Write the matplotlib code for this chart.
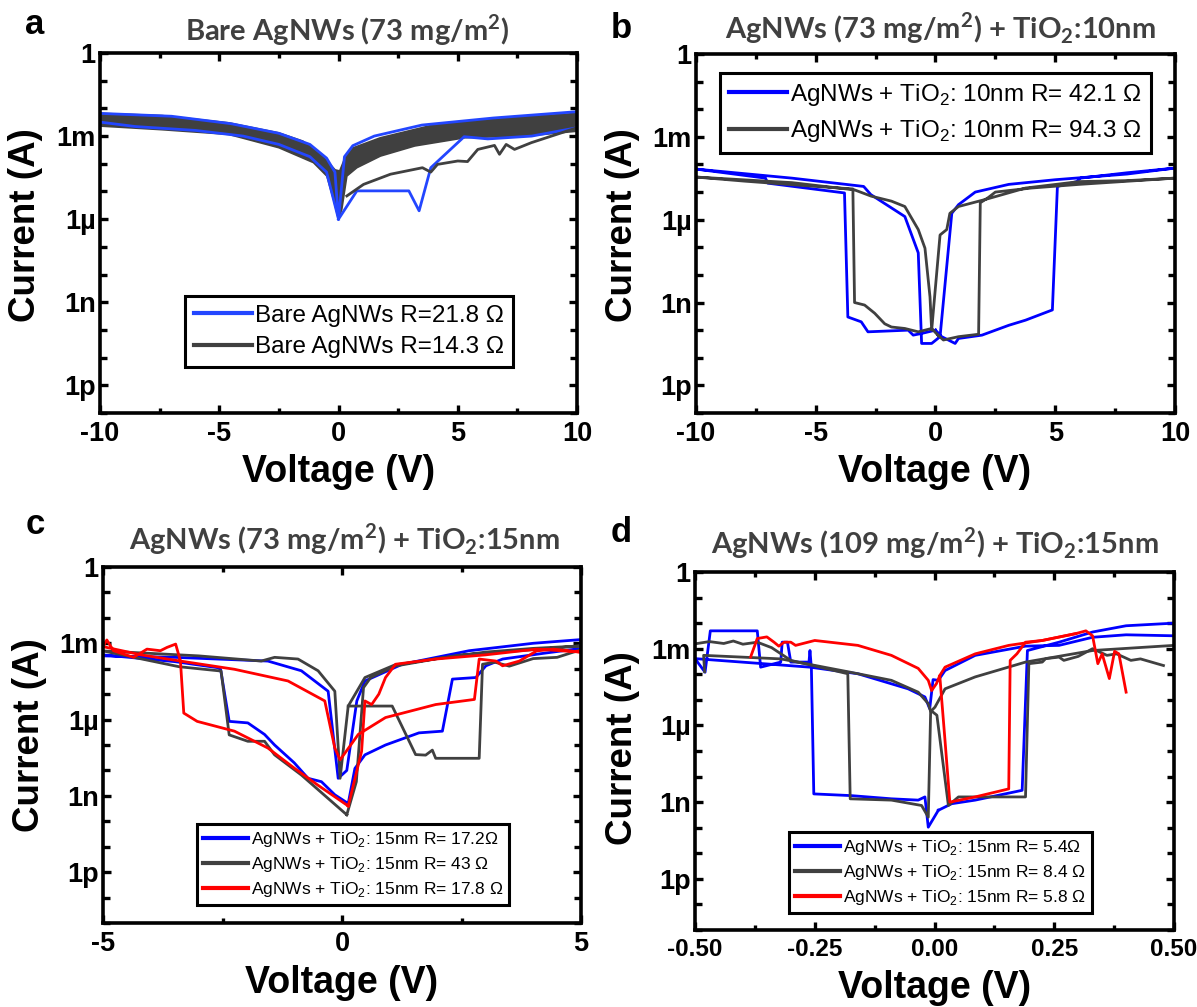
import numpy as np
import matplotlib
matplotlib.use("Agg")
import matplotlib.pyplot as plt
from matplotlib.lines import Line2D
from matplotlib.ticker import (FixedLocator, FixedFormatter, MultipleLocator,
                               LogLocator, NullFormatter, FormatStrFormatter)

plt.rcParams["font.family"] = "Liberation Sans"
plt.rcParams["font.weight"] = "bold"
plt.rcParams["axes.unicode_minus"] = False
plt.rcParams["mathtext.fontset"] = "custom"
plt.rcParams["mathtext.rm"] = "Liberation Sans:weight=normal"
plt.rcParams["mathtext.bf"] = "Lato:weight=bold"

BLUE_A = "#2346ff"
BLUE = "#0000ff"
GRAY = "#404040"
RED = "#ff0000"

# ---------------- panel a : bare AgNWs, voltage in V, current in A
a_band_top_v = [-10.0, -7.4, -4.6, -2.5, -1.5, -0.8, -0.35, -0.14, 0.05, 0.28, 0.63, 1.76, 3.87, 6.7, 10.0]
a_band_top_i = [6.6e-3, 5.5e-3, 3.0e-3, 1.3e-3, 6.6e-4, 2.5e-4, 9.5e-5, 6.0e-5, 5.5e-5, 1.7e-4, 3.8e-4, 8.7e-4, 2.4e-3, 4.2e-3, 6.6e-3]
a_band_bot_v = [10.0, 8.1, 5.3, 3.2, 1.76, 0.77, 0.35, 0.14, 0.0, -0.21, -0.49, -1.05, -2.5, -4.6, -7.4, -10.0]
a_band_bot_i = [1.5e-3, 1.05e-3, 8.7e-4, 4.4e-4, 1.9e-4, 7.2e-5, 3.6e-5, 2.3e-6, 1.0e-6, 5.2e-6, 3.6e-5, 1.1e-4, 3.8e-4, 1.15e-3, 1.7e-3, 2.3e-3]

a_blue1_v = [-10.0, -7.0, -4.5, -2.5, -1.2, -0.5, -0.15, 0.0, 0.25, 0.6, 1.5, 3.5, 6.5, 10.0]
a_blue1_i = [6.6e-3, 5.2e-3, 2.8e-3, 1.26e-3, 5.0e-4, 1.6e-4, 5.0e-5, 1.0e-6, 1.8e-4, 4.5e-4, 1.0e-3, 2.5e-3, 4.5e-3, 7.6e-3]
a_blue2_v = [-10.0, -8.5, -6.0, -4.0, -2.5, -1.2, -0.5, 0.0]
a_blue2_i = [3.2e-3, 2.2e-3, 1.6e-3, 1.0e-3, 5.0e-4, 1.8e-4, 5.0e-5, 1.0e-6]
a_blue_low_v = [0.0, 0.77, 2.95, 3.38, 3.87, 5.27, 6.26, 8.1, 10.0]
a_blue_low_i = [1.0e-6, 1.05e-5, 1.05e-5, 2.0e-6, 7.2e-5, 9.5e-4, 7.9e-4, 1.0e-3, 2.0e-3]
a_gray_low_v = [0.35, 1.05, 2.18, 3.52, 3.87, 4.15, 5.0, 5.41, 5.84, 6.54, 6.75, 7.03, 7.38, 8.09, 10.0]
a_gray_low_i = [6.9e-6, 1.8e-5, 4.2e-5, 7.2e-5, 5.0e-5, 9.5e-5, 1.26e-4, 1.2e-4, 3.3e-4, 4.6e-4, 2.2e-4, 5.0e-4, 3.3e-4, 5.8e-4, 2.0e-3]
a_labels = ["Bare AgNWs R=21.8 Ω", "Bare AgNWs R=14.3 Ω"]

# ---------------- panel b : TiO2 10 nm
b_blue_v = [0.0, 0.26, 0.82, 0.96, 1.94, 3.06, 3.76, 4.88, 5.09, 5.9, 6.05, 8.0, 10.0, 8.0, 5.0, 3.06, 1.66, 0.96, 0.68, 0.19,
            -0.16, -0.58, -0.72, -1.28, -2.7, -3.0, -6.0, -10.0, -7.1, -7.0, -3.8, -3.66, -3.1, -2.82, -1.14, -0.93, -0.58, 0.0]
b_blue_i = [1.0e-10, 5.8e-11, 3.3e-11, 5.0e-11, 6.6e-11, 1.5e-10, 2.3e-10, 5.4e-10, 1.6e-5, 2.4e-5, 3.2e-5, 5.0e-5, 7.4e-5,
            4.5e-5, 2.8e-5, 1.9e-5, 1.0e-5, 3.5e-6, 1.7e-6, 5.8e-11, 3.3e-11, 3.3e-11, 6.3e-8, 1.3e-6, 8.1e-6, 1.6e-5, 3.2e-5,
            6.8e-5, 3.2e-5, 2.1e-5, 9.3e-6, 3.0e-10, 2.0e-10, 8.7e-11, 1.0e-10, 6.6e-11, 7.6e-11, 1.0e-10]
b_gray_v = [0.1, 0.33, 0.96, 1.8, 1.87, 2.2, 2.5, 4.0, 6.0, 10.0, 8.0, 6.0, 3.76, 2.08, 0.96, 0.6, 0.47, 0.19, -0.16, -0.23,
            -0.44, -0.72, -1.28, -1.84, -2.68, -3.38, -6.0, -10.0, -8.0, -5.0, -3.45, -3.38, -2.96, -2.54, -2.12, -1.84,
            -1.28, -0.72, -0.44, -0.16, 0.1]
b_gray_i = [6.6e-11, 4.4e-11, 5.8e-11, 7.1e-11, 4.1e-6, 6.3e-6, 1.0e-5, 1.4e-5, 1.9e-5, 3.2e-5, 2.6e-5, 2.4e-5, 1.4e-5,
            5.4e-6, 3.0e-6, 1.7e-6, 4.4e-7, 2.8e-7, 1.0e-10, 1.6e-9, 9.3e-8, 4.4e-7, 3.0e-6, 4.7e-6, 7.1e-6, 1.2e-5, 2.2e-5,
            3.5e-5, 2.5e-5, 1.6e-5, 1.3e-5, 1.0e-9, 8.1e-10, 4.1e-10, 1.7e-10, 1.3e-10, 1.15e-10, 8.7e-11, 1.0e-10,
            1.15e-10, 6.6e-11]
b_labels = ["AgNWs + TiO$_2$: 10nm R= 42.1 Ω", "AgNWs + TiO$_2$: 10nm R= 94.3 Ω"]

# ---------------- panel c : TiO2 15 nm on 73 mg/m2
c_blue_v = [0.13, 0.27, 0.48, 0.91, 1.61, 2.1, 2.31, 2.8, 3.01, 3.36, 4.2, 5.0, 5.0, 4.0, 2.66, 1.26, 0.48, 0.31, 0.1, -0.08,
            -0.29, -0.85, -1.55, -3.5, -5.0, -5.0, -3.5, -2.6, -2.54, -2.36, -1.97, -1.62, -1.41, -1.0, -0.71, -0.43, -0.15, 0.13]
c_blue_i = [5.0e-10, 1.2e-8, 4.1e-8, 1.0e-7, 3.0e-7, 3.5e-7, 3.9e-5, 4.5e-5, 1.3e-4, 2.4e-4, 4.0e-4, 6.3e-4, 1.4e-3, 1.0e-3,
            5.1e-4, 1.5e-4, 3.3e-5, 5.4e-6, 1.0e-8, 4.9e-9, 1.3e-5, 8.3e-5, 2.0e-4, 2.8e-4, 3.2e-4, 3.5e-4, 1.9e-4, 1.1e-4,
            9.5e-5, 8.5e-7, 7.4e-7, 2.6e-7, 1.0e-7, 2.0e-8, 4.9e-9, 3.6e-9, 1.1e-9, 5.0e-10]
c_gray1_v = [0.1, 0.3, 0.45, 0.6, 1.1, 2.0, 3.0, 4.0, 5.0, 4.0, 2.5, 1.1, 0.48, 0.13, -0.04, -0.15, -0.5, -0.92, -1.41,
             -1.69, -3.0, -5.0, -3.41, -2.53, -2.36, -1.97, -1.62, -1.41, -0.85, -0.29, 0.1]
c_gray1_i = [1.8e-10, 3.6e-9, 1.8e-5, 4.5e-5, 1.26e-4, 2.5e-4, 4.5e-4, 6.3e-4, 7.9e-4, 5.6e-4, 3.5e-4, 1.4e-4, 4.5e-5,
             3.4e-6, 4.9e-9, 1.3e-5, 8.3e-5, 2.4e-4, 2.8e-4, 2.0e-4, 3.2e-4, 5.0e-4, 1.2e-4, 8.1e-5, 2.5e-7, 1.4e-7, 1.4e-7,
             4.1e-8, 6.6e-9, 7.9e-10, 1.8e-10]
c_gray2_v = [0.13, 1.05, 1.54, 1.75, 1.89, 1.96, 2.87, 2.94, 3.2, 3.5, 4.0, 4.5, 5.0]
c_gray2_i = [3.4e-6, 3.4e-6, 4.2e-8, 4.0e-8, 6.3e-8, 3.0e-8, 3.0e-8, 1.5e-4, 1.8e-4, 1.26e-4, 2.5e-4, 2.8e-4, 5.6e-4]
c_red_v = [0.13, 0.41, 0.48, 0.62, 0.77, 0.91, 1.12, 1.96, 3.0, 4.07, 5.0, 4.42, 4.07, 3.71, 3.36, 3.22, 2.87, 2.77, 1.96,
           0.91, 0.34, -0.04, -0.15, -0.36, -1.13, -2.25, -3.38, -4.2, -5.0, -4.92, -4.78, -4.36, -4.08, -3.8, -3.66,
           -3.48, -3.38, -3.31, -3.03, -2.25, -1.55, -0.99, -0.5, 0.13]
c_red_i = [4.0e-10, 5.6e-8, 5.4e-6, 3.9e-6, 1.0e-5, 4.5e-5, 1.5e-4, 2.4e-4, 3.5e-4, 5.9e-4, 4.5e-4, 5.9e-4, 5.0e-4, 2.0e-4,
           1.3e-4, 2.0e-4, 2.4e-4, 6.2e-6, 3.9e-6, 1.2e-6, 2.6e-7, 2.6e-8, 7.6e-8, 5.4e-6, 3.3e-5, 9.5e-5, 2.0e-4, 3.5e-4,
           7.4e-4, 1.35e-3, 5.1e-4, 2.8e-4, 5.9e-4, 5.1e-4, 6.9e-4, 9.3e-4, 2.0e-4, 1.8e-6, 8.5e-7, 3.5e-7, 7.6e-8, 1.2e-8,
           2.6e-9, 4.0e-10]
c_labels = ["AgNWs + TiO$_2$: 15nm R= 17.2Ω", "AgNWs + TiO$_2$: 15nm R= 43 Ω", "AgNWs + TiO$_2$: 15nm R= 17.8 Ω"]

# ---------------- panel d : TiO2 15 nm on 109 mg/m2
d_blue_v = [0.008, 0.036, 0.085, 0.183, 0.194, 0.26, 0.33, 0.4, 0.5, 0.5, 0.4, 0.33, 0.26, 0.19, 0.085, 0.022, 0.008, -0.003,
            -0.01, -0.02, -0.055, -0.16, -0.26, -0.5, -0.479, -0.468, -0.37, -0.363, -0.321, -0.318, -0.307, -0.3, -0.262,
            -0.26, -0.257, -0.252, -0.174, -0.09, -0.034, -0.02, -0.013, 0.008]
d_blue_i = [4.8e-10, 8.7e-10, 1.2e-9, 2.9e-9, 8.5e-4, 1.8e-3, 4.5e-3, 7.9e-3, 1.0e-2, 3.2e-3, 3.5e-3, 2.8e-3, 1.35e-3, 1.26e-3,
            5.5e-4, 1.4e-4, 5.8e-5, 6.2e-5, 4.5e-6, 1.3e-5, 2.7e-5, 1.05e-4, 1.9e-4, 4.1e-4, 1.2e-4, 5.0e-3, 5.0e-3, 1.9e-4,
            3.0e-4, 1.8e-3, 1.8e-3, 3.0e-4, 3.0e-4, 8.5e-4, 1.7e-4, 2.1e-9, 1.8e-9, 1.35e-9, 1.2e-9, 1.6e-9, 1.05e-10, 4.8e-10]
d_gray1_v = [-0.5, -0.47, -0.44, -0.42, -0.4, -0.37, -0.34, -0.3, -0.181, -0.176, -0.09, -0.027, -0.013, -0.008, 0.005,
             0.029, 0.05, 0.19, 0.197, 0.225, 0.232, 0.26, 0.27, 0.3, 0.33, 0.36, 0.38, 0.41, 0.43, 0.478]
d_gray1_i = [1.55e-3, 1.9e-3, 1.6e-3, 2.0e-3, 1.5e-3, 1.8e-3, 1.1e-3, 3.5e-4, 1.05e-4, 1.35e-9, 1.2e-9, 7.4e-10, 2.6e-10,
             3.9e-6, 2.5e-6, 7.4e-10, 1.6e-9, 1.6e-9, 2.6e-4, 3.0e-4, 4.1e-4, 4.7e-4, 3.5e-4, 5.0e-4, 1.0e-3, 5.5e-4,
             6.3e-4, 3.5e-4, 4.0e-4, 2.2e-4]
d_gray2_v = [0.5, 0.33, 0.19, 0.085, 0.022, 0.001, -0.008, -0.013, -0.034, -0.09, -0.181, -0.321, -0.482, -0.48]
d_gray2_i = [1.35e-3, 8.5e-4, 3.0e-4, 7.9e-5, 2.7e-5, 5.2e-6, 3.5e-6, 7.1e-6, 2.0e-5, 5.8e-5, 1.26e-4, 4.0e-4, 5.5e-4, 1.26e-4]
d_red_v = [-0.384, -0.37, -0.35, -0.335, -0.325, -0.314, -0.3, -0.29, -0.25, -0.16, -0.09, -0.034, -0.013, -0.006, 0.004,
           0.011, 0.022, 0.032, 0.085, 0.155, 0.158, 0.172, 0.19, 0.225, 0.295, 0.316, 0.33, 0.341, 0.35, 0.365, 0.376,
           0.385, 0.4]
d_red_i = [4.7e-4, 2.5e-3, 2.9e-3, 1.8e-3, 1.26e-3, 1.8e-3, 1.8e-3, 1.35e-3, 2.1e-3, 1.35e-3, 5.5e-4, 1.7e-4, 5.8e-5, 2.3e-5,
           4.3e-5, 8.9e-5, 2.5e-7, 1.0e-9, 1.6e-9, 3.3e-9, 3.5e-4, 6.3e-4, 1.8e-3, 2.1e-3, 3.9e-3, 5.0e-3, 3.2e-3, 2.6e-4,
           6.3e-4, 6.8e-5, 7.9e-4, 6.3e-4, 2.0e-5]
d_red2_v = [0.011, 0.022, 0.085, 0.155, 0.225, 0.295]
d_red2_i = [8.9e-5, 1.9e-4, 6.3e-4, 1.35e-3, 2.1e-3, 3.9e-3]
d_labels = ["AgNWs + TiO$_2$: 15nm R= 5.4Ω", "AgNWs + TiO$_2$: 15nm R= 8.4 Ω", "AgNWs + TiO$_2$: 15nm R= 5.8 Ω"]

y_tick_vals = [1e-12, 1e-9, 1e-6, 1e-3, 1.0]
y_tick_text = ["1p", "1n", "1µ", "1m", "1"]

W, H = 1197, 1007
fig = plt.figure(figsize=(W / 100, H / 100), dpi=100)


def box(x0, y0, x1, y1):
    return [x0 / W, 1 - y1 / H, (x1 - x0) / W, (y1 - y0) / H]


def fpos(x, y):
    return x / W, 1 - y / H


def style(ax, xlim, xmaj, xmin, ybottom, xfmt=None, xsize=19.5):
    ax.set_yscale("log")
    ax.set_xlim(*xlim)
    ax.set_ylim(ybottom, 1.0)
    ax.yaxis.set_major_locator(FixedLocator(y_tick_vals))
    ax.yaxis.set_major_formatter(FixedFormatter(y_tick_text))
    ax.yaxis.set_minor_locator(LogLocator(base=10, subs=(1.0,), numticks=40))
    ax.yaxis.set_minor_formatter(NullFormatter())
    ax.xaxis.set_major_locator(MultipleLocator(xmaj))
    ax.xaxis.set_minor_locator(MultipleLocator(xmin))
    if xfmt:
        ax.xaxis.set_major_formatter(FormatStrFormatter(xfmt))
    ax.tick_params(which="both", direction="in", top=True, right=True, width=2.4,
                   labelsize=19.5)
    ax.tick_params(axis="x", labelsize=xsize)
    ax.tick_params(which="major", length=6)
    ax.tick_params(axis="y", which="minor", length=5)
    ax.tick_params(axis="x", which="minor", length=3.5)
    ax.tick_params(axis="x", pad=6)
    ax.tick_params(axis="y", pad=3)
    for s in ax.spines.values():
        s.set_linewidth(2.6)


def legend(ax, colors, labels, x, y, size, hlen, spacing):
    handles = [Line2D([], [], color=c, lw=3) for c in colors]
    leg = ax.legend(handles, labels, loc="upper left", bbox_to_anchor=fpos(x, y),
                    bbox_transform=fig.transFigure, borderaxespad=0, fancybox=False,
                    framealpha=1, edgecolor="black", handlelength=hlen, handletextpad=0.15,
                    borderpad=0.35, labelspacing=spacing,
                    prop={"family": "Liberation Sans", "weight": "normal", "size": size})
    leg.get_frame().set_linewidth(2.2)
    return leg


lw = 2.0

# panel a
ax_a = fig.add_axes(box(100, 53, 577, 413))
ax_a.plot(a_blue1_v, a_blue1_i, color=BLUE_A, lw=lw)
ax_a.plot(a_blue2_v, a_blue2_i, color=BLUE_A, lw=lw)
ax_a.fill(a_band_top_v + a_band_bot_v, a_band_top_i + a_band_bot_i, facecolor=GRAY,
          edgecolor=GRAY, lw=1.2)
ax_a.plot(a_blue_low_v, a_blue_low_i, color=BLUE_A, lw=lw)
ax_a.plot(a_gray_low_v, a_gray_low_i, color=GRAY, lw=lw)
style(ax_a, (-10, 10), 5, 2.5, 1e-13)
legend(ax_a, [BLUE_A, GRAY], a_labels, 185, 296, 17.5, 2.4, 0.4)

# panel b
ax_b = fig.add_axes(box(696, 54, 1175, 413))
ax_b.plot(b_blue_v, b_blue_i, color=BLUE, lw=lw)
ax_b.plot(b_gray_v, b_gray_i, color=GRAY, lw=lw)
style(ax_b, (-10, 10), 5, 2.5, 1e-13)
legend(ax_b, [BLUE, GRAY], b_labels, 720, 73, 17.5, 2.4, 0.45)

# panel c
ax_c = fig.add_axes(box(103, 567, 581, 923))
ax_c.plot(c_blue_v, c_blue_i, color=BLUE, lw=lw)
ax_c.plot(c_gray1_v, c_gray1_i, color=GRAY, lw=lw)
ax_c.plot(c_gray2_v, c_gray2_i, color=GRAY, lw=lw)
ax_c.plot(c_red_v, c_red_i, color=RED, lw=lw)
style(ax_c, (-5, 5), 5, 2.5, 1e-14)
legend(ax_c, [BLUE, GRAY, RED], c_labels, 197, 824, 12.5, 2.6, 0.35)

# panel d
ax_d = fig.add_axes(box(695, 572, 1174, 930))
ax_d.plot(d_blue_v, d_blue_i, color=BLUE, lw=lw)
ax_d.plot(d_gray1_v, d_gray1_i, color=GRAY, lw=lw)
ax_d.plot(d_gray2_v, d_gray2_i, color=GRAY, lw=lw)
ax_d.plot(d_red_v, d_red_i, color=RED, lw=lw)
ax_d.plot(d_red2_v, d_red2_i, color=RED, lw=lw)
style(ax_d, (-0.5, 0.5), 0.25, 0.125, 1e-14, "%.2f", xsize=17.5)
legend(ax_d, [BLUE, GRAY, RED], d_labels, 789, 832, 12.5, 2.6, 0.35)

# titles, panel letters and axis labels
titles = [
    ("Bare AgNWs (73 mg/m$^{\\mathbf{2}}$)", 347, 30),
    ("AgNWs (73 mg/m$^{\\mathbf{2}}$) + TiO$_{\\mathbf{2}}$:10nm", 940, 28),
    ("AgNWs (73 mg/m$^{\\mathbf{2}}$) + TiO$_{\\mathbf{2}}$:15nm", 344, 539),
    ("AgNWs (109 mg/m$^{\\mathbf{2}}$) + TiO$_{\\mathbf{2}}$:15nm", 935, 543),
]
for text, x, y in titles:
    fig.text(*fpos(x, y), text, ha="center", va="center", color=GRAY,
             family="Lato", weight="bold", size=21)

for letter, x, y in [("a", 35, 24), ("b", 621, 29), ("c", 35, 525), ("d", 621, 533)]:
    fig.text(*fpos(x, y), letter, ha="center", va="center", size=25, weight="bold")

for x, y in [(339, 472), (935, 472), (342, 983), (935, 988)]:
    fig.text(*fpos(x, y), "Voltage (V)", ha="center", va="center", size=27, weight="bold")
for x, y in [(26, 225), (622, 225), (30, 735), (622, 748)]:
    fig.text(*fpos(x, y), "Current (A)", ha="center", va="center", size=26.5, weight="bold",
             rotation=90)

fig.savefig("out.png", dpi=100)
